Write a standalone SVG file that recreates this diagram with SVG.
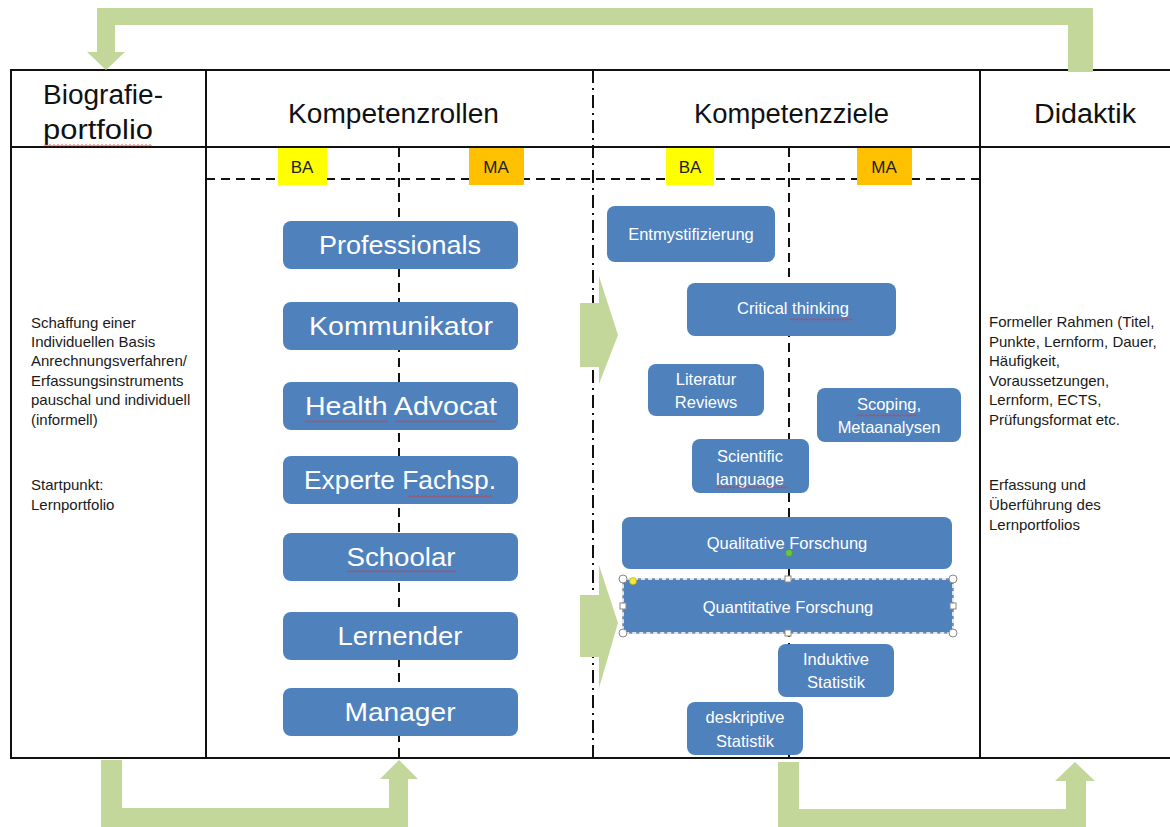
<svg xmlns="http://www.w3.org/2000/svg" width="1170" height="827" viewBox="0 0 1170 827">
<defs>
<style>
.ln{stroke:#111;stroke-width:2;fill:none}
.dash{stroke:#111;stroke-width:2;fill:none;stroke-dasharray:9 6}
.dd{stroke:#111;stroke-width:2;fill:none;stroke-dasharray:13 5 2 5}
.box{fill:#4F81BD}
.hd{font-family:"Liberation Sans",Arial,sans-serif;font-size:27px;fill:#111}
.rl{font-family:"Liberation Sans",Arial,sans-serif;font-size:26px;fill:#fff;text-anchor:middle}
.gl{font-family:"Liberation Sans",Arial,sans-serif;font-size:16.5px;fill:#fff;text-anchor:middle}
.sm{font-family:"Liberation Sans",Arial,sans-serif;font-size:15px;fill:#1a1a1a}
.lv{font-family:"Liberation Sans",Arial,sans-serif;font-size:17px;fill:#222;text-anchor:middle}
.arr{fill:#C4D79B}
.sq{fill:url(#sq)}
.hdl{fill:#fff;stroke:#888;stroke-width:1}
</style>
<pattern id="sq" patternUnits="userSpaceOnUse" width="4" height="3">
<path d="M0 2.5 L2 0.5 L4 2.5" stroke="#e03030" stroke-width="0.9" fill="none"/>
</pattern>
</defs>
<rect width="1170" height="827" fill="#fff"/>

<g id="table">
<line class="ln" x1="11" y1="70" x2="1170" y2="70"/>
<line class="ln" x1="11" y1="147" x2="1170" y2="147"/>
<line class="ln" x1="11" y1="758" x2="1170" y2="758"/>
<line class="ln" x1="11" y1="69" x2="11" y2="759"/>
<line class="ln" x1="206" y1="70" x2="206" y2="758"/>
<line class="ln" x1="980" y1="70" x2="980" y2="758"/>
<line class="dd" x1="593" y1="70" x2="593" y2="758"/>
<line class="dash" x1="206" y1="179" x2="980" y2="179"/>
<line class="dash" x1="399" y1="148" x2="399" y2="758"/>
<line class="dash" x1="789" y1="148" x2="789" y2="758"/>
</g>

<g id="headers">
<text class="hd" x="43" y="104" textLength="120" lengthAdjust="spacingAndGlyphs">Biografie-</text>
<text class="hd" x="43" y="139" textLength="110" lengthAdjust="spacingAndGlyphs">portfolio</text>
<rect class="sq" x="44" y="144" width="108" height="3"/>
<text class="hd" x="288" y="123" textLength="211" lengthAdjust="spacingAndGlyphs">Kompetenzrollen</text>
<text class="hd" x="694" y="123" textLength="195" lengthAdjust="spacingAndGlyphs">Kompetenzziele</text>
<text class="hd" x="1034" y="123" textLength="102" lengthAdjust="spacingAndGlyphs">Didaktik</text>
</g>

<g id="levels">
<rect x="278" y="148" width="49" height="37" fill="#FFFF00"/>
<text class="lv" x="302" y="173">BA</text>
<rect x="469" y="148" width="55" height="37" fill="#FFC000"/>
<text class="lv" x="496" y="173">MA</text>
<rect x="666" y="148" width="48" height="37" fill="#FFFF00"/>
<text class="lv" x="690" y="173">BA</text>
<rect x="857" y="148" width="55" height="37" fill="#FFC000"/>
<text class="lv" x="884" y="173">MA</text>
</g>

<g id="left-text">
<text class="sm" x="31" y="328">Schaffung einer</text>
<text class="sm" x="31" y="347">Individuellen Basis</text>
<text class="sm" x="31" y="366">Anrechnungsverfahren/</text>
<text class="sm" x="31" y="386">Erfassungsinstruments</text>
<text class="sm" x="31" y="405">pauschal und individuell</text>
<text class="sm" x="31" y="425">(informell)</text>
<text class="sm" x="31" y="490">Startpunkt:</text>
<text class="sm" x="31" y="510">Lernportfolio</text>
</g>

<g id="right-text">
<text class="sm" x="989" y="327">Formeller Rahmen (Titel,</text>
<text class="sm" x="989" y="347">Punkte, Lernform, Dauer,</text>
<text class="sm" x="989" y="366">Häufigkeit,</text>
<text class="sm" x="989" y="386">Voraussetzungen,</text>
<text class="sm" x="989" y="405">Lernform, ECTS,</text>
<text class="sm" x="989" y="425">Prüfungsformat etc.</text>
<text class="sm" x="989" y="490">Erfassung und</text>
<text class="sm" x="989" y="510">Überführung des</text>
<text class="sm" x="989" y="530">Lernportfolios</text>
</g>

<g id="role-professionals">
<rect class="box" x="283" y="221" width="235" height="48" rx="8"/>
<text class="rl" x="400" y="254" textLength="162" lengthAdjust="spacingAndGlyphs">Professionals</text>
</g>
<g id="role-kommunikator">
<rect class="box" x="283" y="302" width="235" height="48" rx="8"/>
<text class="rl" x="401" y="335" textLength="184" lengthAdjust="spacingAndGlyphs">Kommunikator</text>
</g>
<g id="role-health-advocat">
<rect class="box" x="283" y="382" width="235" height="48" rx="8"/>
<text class="rl" x="401" y="415" textLength="192" lengthAdjust="spacingAndGlyphs">Health Advocat</text>
<rect class="sq" x="305" y="420" width="83" height="3"/>
<rect class="sq" x="395" y="420" width="102" height="3"/>
</g>
<g id="role-experte">
<rect class="box" x="283" y="456" width="235" height="48" rx="8"/>
<text class="rl" x="400" y="489" textLength="192" lengthAdjust="spacingAndGlyphs">Experte Fachsp.</text>
<rect class="sq" x="408" y="495" width="84" height="3"/>
</g>
<g id="role-schoolar">
<rect class="box" x="283" y="533" width="235" height="48" rx="8"/>
<text class="rl" x="401" y="566" textLength="109" lengthAdjust="spacingAndGlyphs">Schoolar</text>
<rect class="sq" x="347" y="570" width="109" height="3"/>
</g>
<g id="role-lernender">
<rect class="box" x="283" y="612" width="235" height="48" rx="8"/>
<text class="rl" x="400" y="645" textLength="125" lengthAdjust="spacingAndGlyphs">Lernender</text>
</g>
<g id="role-manager">
<rect class="box" x="283" y="688" width="235" height="48" rx="8"/>
<text class="rl" x="400" y="721" textLength="111" lengthAdjust="spacingAndGlyphs">Manager</text>
</g>

<g id="goal-entmystifizierung">
<rect class="box" x="607" y="206" width="168" height="56" rx="8"/>
<text class="gl" x="691" y="240">Entmystifizierung</text>
</g>
<g id="goal-critical-thinking">
<rect class="box" x="687" y="283" width="209" height="53" rx="8"/>
<text class="gl" x="793" y="314">Critical thinking</text>
<rect class="sq" x="790" y="318" width="63" height="3"/>
</g>
<g id="goal-literatur">
<rect class="box" x="648" y="364" width="116" height="52" rx="8"/>
<text class="gl" x="706" y="385">Literatur</text>
<text class="gl" x="706" y="408">Reviews</text>
</g>
<g id="goal-scoping">
<rect class="box" x="817" y="388" width="144" height="54" rx="8"/>
<text class="gl" x="889" y="410">Scoping,</text>
<text class="gl" x="889" y="433">Metaanalysen</text>
<rect class="sq" x="856" y="414" width="61" height="3"/>
</g>
<g id="goal-scientific">
<rect class="box" x="692" y="439" width="117" height="54" rx="8"/>
<text class="gl" x="750" y="462">Scientific</text>
<text class="gl" x="750" y="485">language</text>
<rect class="sq" x="716" y="486" width="71" height="3"/>
</g>
<g id="goal-qualitative">
<rect class="box" x="622" y="517" width="330" height="52" rx="8"/>
<text class="gl" x="787" y="549">Qualitative Forschung</text>
</g>
<g id="goal-quantitative">
<rect class="box" x="623" y="579" width="330" height="54" rx="4"/>
<rect x="623" y="579" width="330" height="54" rx="4" fill="none" stroke="#7a8aa0" stroke-width="1.5"/>
<rect x="623" y="579" width="330" height="54" rx="4" fill="none" stroke="#fff" stroke-width="1.5" stroke-dasharray="4 3"/>
<text class="gl" x="788" y="613">Quantitative Forschung</text>
<circle class="hdl" cx="623" cy="579" r="4"/>
<circle class="hdl" cx="953" cy="579" r="4"/>
<circle class="hdl" cx="623" cy="633" r="4"/>
<circle class="hdl" cx="953" cy="633" r="4"/>
<rect class="hdl" x="785" y="576" width="6" height="6"/>
<rect class="hdl" x="785" y="630" width="6" height="6"/>
<rect class="hdl" x="620" y="603" width="6" height="6"/>
<rect class="hdl" x="950" y="603" width="6" height="6"/>
<circle cx="633" cy="581" r="3.5" fill="#f5e642" stroke="#c9b800" stroke-width="0.8"/>
<circle cx="789" cy="553" r="3.5" fill="#6cc24a" stroke="#4a9a2a" stroke-width="0.8"/>
</g>
<g id="goal-induktive">
<rect class="box" x="778" y="644" width="116" height="53" rx="8"/>
<text class="gl" x="836" y="665">Induktive</text>
<text class="gl" x="836" y="688">Statistik</text>
</g>
<g id="goal-deskriptive">
<rect class="box" x="687" y="702" width="116" height="53" rx="8"/>
<text class="gl" x="745" y="723">deskriptive</text>
<text class="gl" x="745" y="747">Statistik</text>
</g>

<g id="connectors">
<polygon class="arr" points="1093,72 1093,8 97,8 97,52 87,52 106,70 125,52 115,52 115,25 1068,25 1068,72"/>
<polygon class="arr" points="101,760 101,827 408,827 408,779 418,779 399,760 380,779 389,779 389,808 122,808 122,760"/>
<polygon class="arr" points="778,762 778,827 1086,827 1086,781 1095,781 1075,762 1055,781 1066,781 1066,809 799,809 799,762"/>
<polygon class="arr" points="580,303 599,303 599,276 618,335 599,384 599,367 580,367"/>
<polygon class="arr" points="580,595 599,595 599,565 618,623 599,688 599,657 580,657"/>
</g>
</svg>
